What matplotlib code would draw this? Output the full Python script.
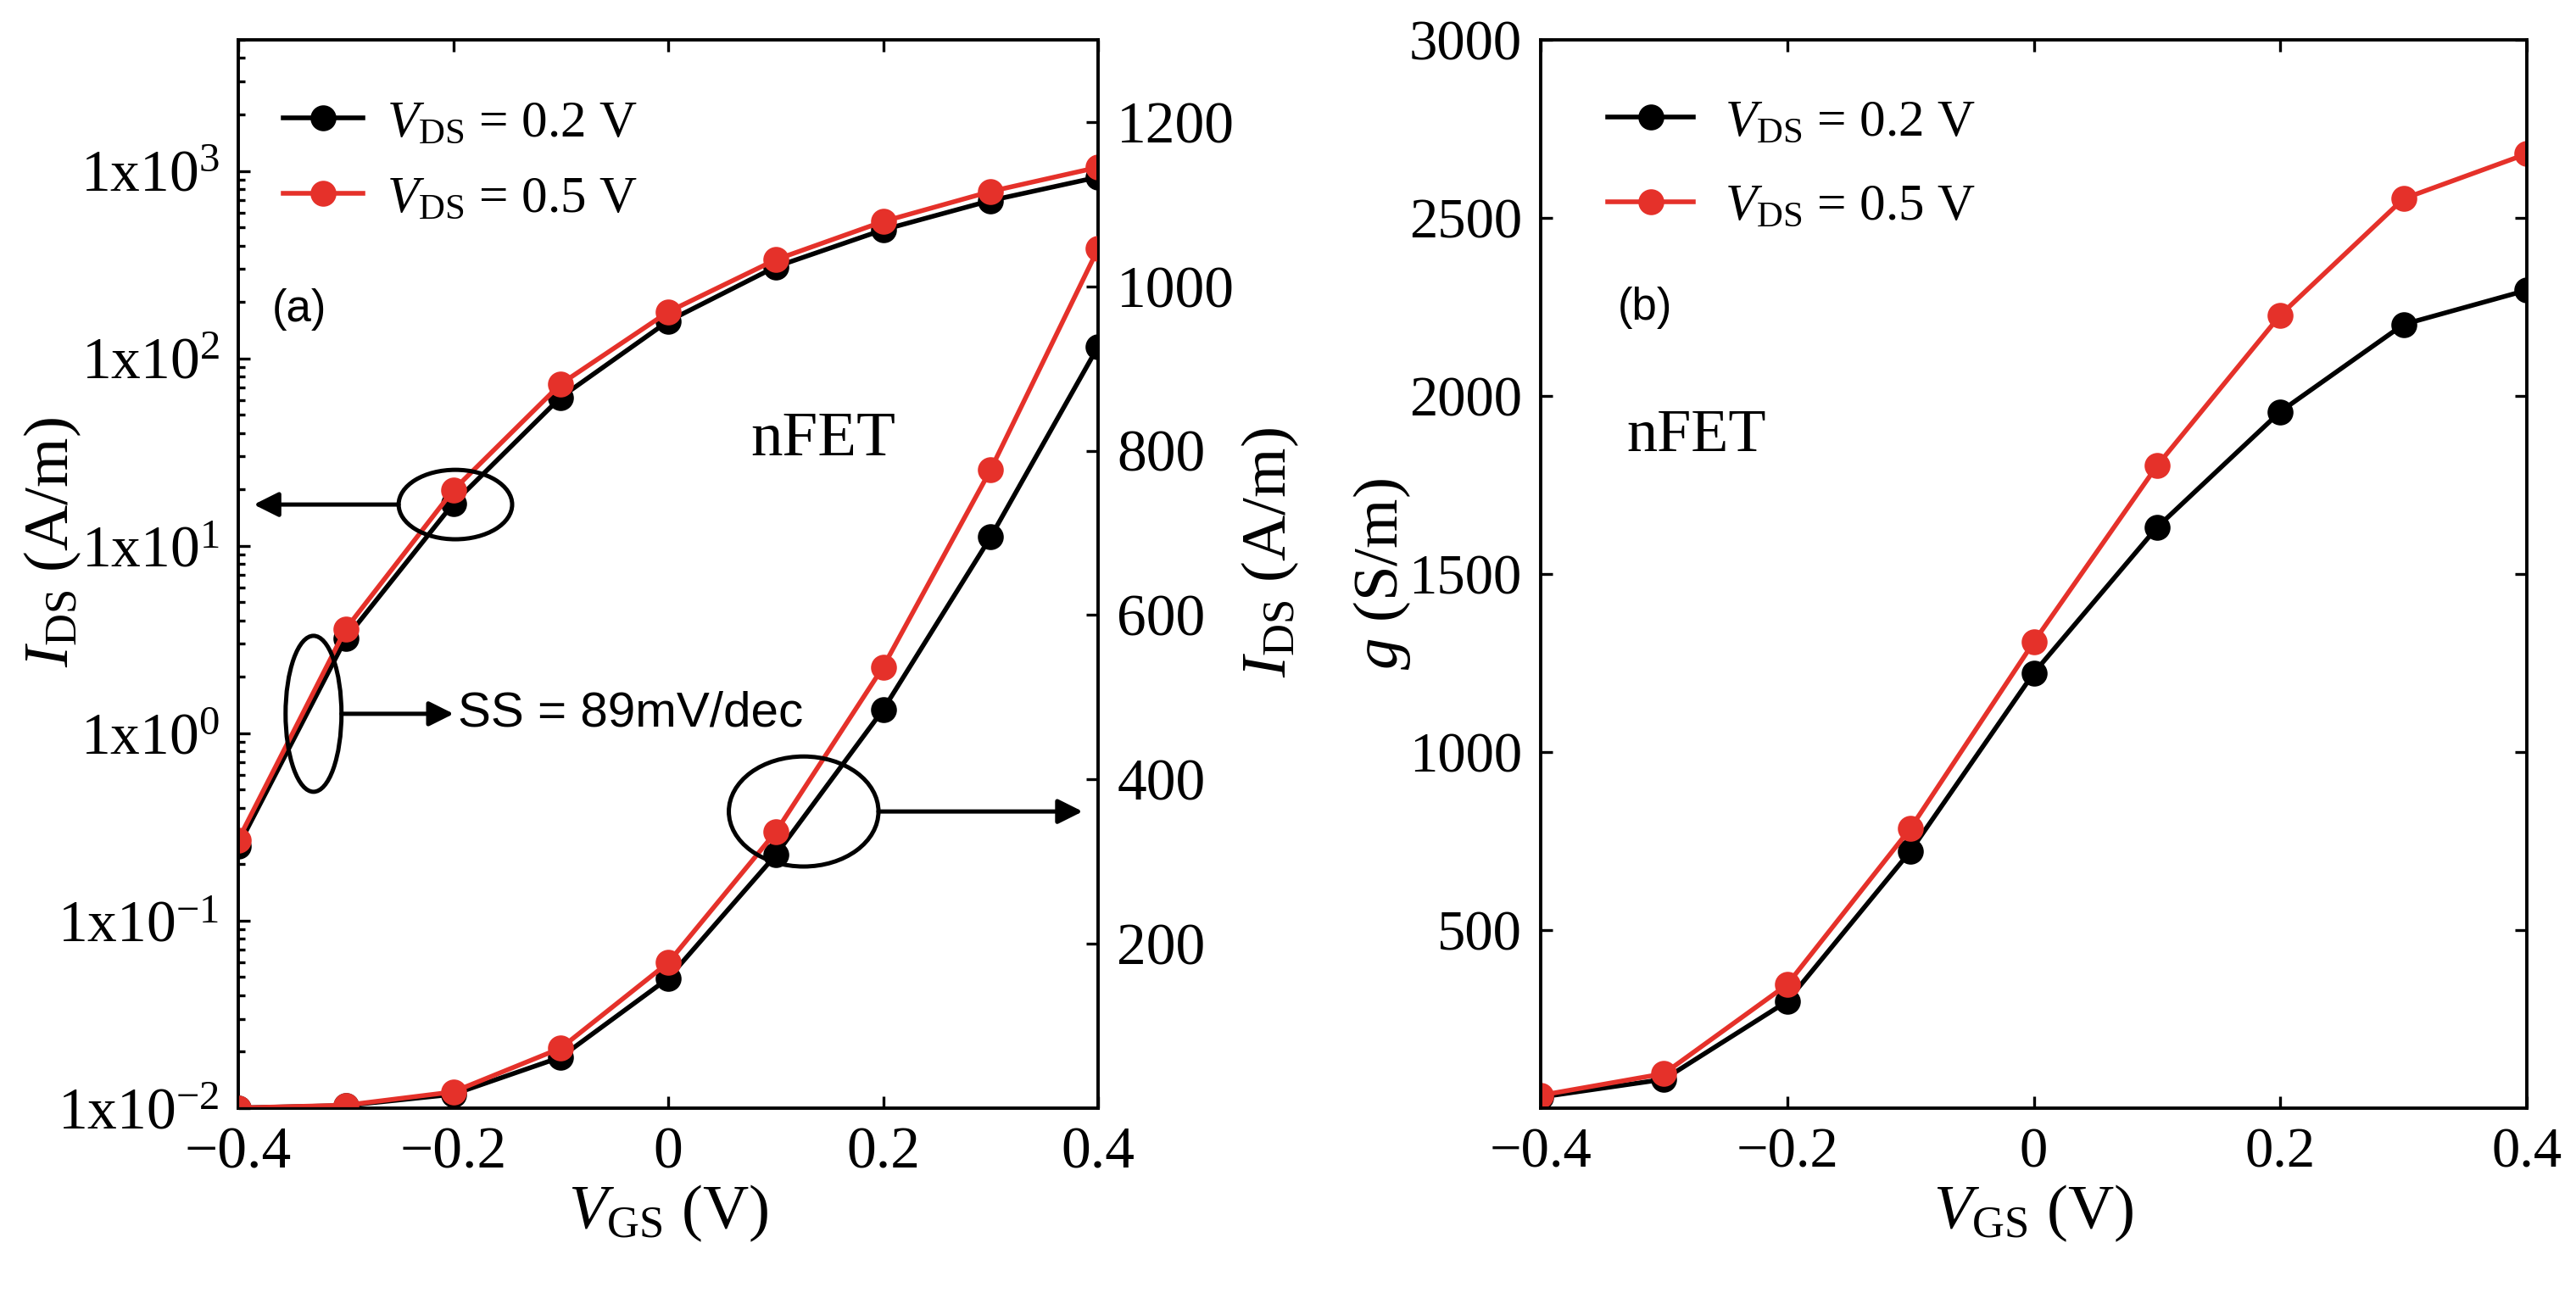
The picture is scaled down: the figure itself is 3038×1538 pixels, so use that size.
import numpy as np
import matplotlib
matplotlib.use('Agg')
import matplotlib.pyplot as plt
from matplotlib.patches import Ellipse
from matplotlib.ticker import FixedLocator, FuncFormatter, LogLocator, NullFormatter

plt.rcParams['font.family'] = ['Liberation Serif', 'DejaVu Serif']
plt.rcParams['mathtext.fontset'] = 'custom'
plt.rcParams['mathtext.rm'] = 'Liberation Serif'
plt.rcParams['mathtext.it'] = 'Liberation Serif:italic'
plt.rcParams['mathtext.bf'] = 'Liberation Serif:bold'
plt.rcParams['axes.unicode_minus'] = True

# data
vgs = [-0.4, -0.3, -0.2, -0.1, 0.0, 0.1, 0.2, 0.3, 0.4]
ids_02 = [0.25, 3.2, 16.8, 62, 158, 308, 485, 695, 927]     # A/m, VDS = 0.2 V
ids_05 = [0.27, 3.6, 19.8, 73, 177, 336, 537, 777, 1046]    # A/m, VDS = 0.5 V
g_02 = [31, 81, 300, 722, 1222, 1631, 1956, 2201, 2297]     # S/m, VDS = 0.2 V
g_05 = [36, 97, 347, 786, 1309, 1804, 2227, 2554, 2680]     # S/m, VDS = 0.5 V

labels = [r'$V_{\mathrm{DS}}$ = 0.2 V', r'$V_{\mathrm{DS}}$ = 0.5 V']
colors = ['black', '#e5312a']

xticks = [-0.4, -0.2, 0, 0.2, 0.4]
log_ticks = [1e-2, 1e-1, 1e0, 1e1, 1e2, 1e3]
lin_ticks = [200, 400, 600, 800, 1000, 1200]
g_ticks = [500, 1000, 1500, 2000, 2500, 3000]

LAB = 27
LEG = 22
LW = 2.0
MS = 10


def xfmt(v, p):
  return '0' if abs(v) < 1e-9 else ('%g' % v).replace('-', '\u2212')


def style(ax, size, right=True):
  ax.tick_params(which='both', direction='in', top=True, right=right,
                 labelsize=size, width=1.2)
  ax.tick_params(which='major', length=5, pad=8)
  ax.tick_params(which='minor', length=3)
  for s in ax.spines.values():
    s.set_linewidth(1.4)


def ellipse_at(ax, x, y, w, h):
  cx, cy = ax.transAxes.inverted().transform(ax.transData.transform((x, y)))
  ax.add_patch(Ellipse((cx, cy), w, h, transform=ax.transAxes, fill=False,
                       lw=1.8, ec='k', zorder=5))
  return cx, cy


def arrow(ax, x0, x1, y):
  ax.annotate('', xy=(x1, y), xytext=(x0, y), xycoords='axes fraction',
              arrowprops=dict(arrowstyle='-|>', lw=1.8, color='k',
                              mutation_scale=22, shrinkA=0, shrinkB=0))


fig = plt.figure(figsize=(15.19, 7.69), dpi=200)
ax1 = fig.add_axes([0.0925, 0.1502, 0.3338, 0.8192])
ax1b = ax1.twinx()
ax2 = fig.add_axes([0.5981, 0.1502, 0.3828, 0.8192])

# (a) log and linear IDS
for y, c, lab in zip([ids_02, ids_05], colors, labels):
  ax1.semilogy(vgs, y, '-o', color=c, lw=LW, ms=MS, label=lab)
  ax1b.plot(vgs, y, '-o', color=c, lw=LW, ms=MS)

ax1.set_xlim(-0.4, 0.4)
ax1.set_ylim(1e-2, 5e3)
ax1.set_xticks(xticks)
ax1.xaxis.set_major_formatter(FuncFormatter(xfmt))
ax1.yaxis.set_major_locator(FixedLocator(log_ticks))
ax1.yaxis.set_minor_locator(LogLocator(base=10, subs=np.arange(2, 10)))
ax1.yaxis.set_minor_formatter(NullFormatter())
ax1.yaxis.set_major_formatter(FuncFormatter(
    lambda v, p: r'$\mathrm{1x10}^{%d}$' % round(np.log10(v))))
style(ax1, 25, right=False)

ax1b.set_ylim(0, 1300)
ax1b.set_yticks(lin_ticks)
ax1b.tick_params(direction='in', labelsize=25, width=1.2, length=5, pad=8)

ax1.set_xlabel(r'$V_{\mathrm{GS}}$ (V)', fontsize=LAB)
ax1.xaxis.set_label_coords(0.5, -0.07)
ax1.set_ylabel(r'$I_{\mathrm{DS}}$ (A/m)', fontsize=LAB)
ax1.yaxis.set_label_coords(-0.18, 0.53)
ax1b.set_ylabel(r'$I_{\mathrm{DS}}$ (A/m)', fontsize=LAB)
ax1b.yaxis.set_label_coords(1.165, 0.52)

ax1.legend(loc='upper left', bbox_to_anchor=(0.052, 0.944), frameon=False,
           fontsize=LEG, handlelength=1.55, handletextpad=0.45,
           labelspacing=0.55, borderpad=0, borderaxespad=0)

ax1.text(0.071, 0.748, '(a)', transform=ax1.transAxes, fontsize=19,
         family='Liberation Sans', ha='center', va='center')
ax1.text(0.68, 0.625, 'nFET', transform=ax1.transAxes, fontsize=27,
         ha='center', va='center')

# annotations
w, h = 0.132, 0.065
cx, cy = ellipse_at(ax1, -0.198, 16.6, w, h)
arrow(ax1, cx - w / 2, 0.018, cy)

w, h = 0.065, 0.146
cx, cy = ellipse_at(ax1, -0.33, 1.27, w, h)
arrow(ax1, cx + w / 2, 0.2505, cy)
ax1.text(0.255, cy, 'SS = 89mV/dec', transform=ax1.transAxes, fontsize=21,
         family='Liberation Sans', ha='left', va='center')

w, h = 0.174, 0.103
cx, cy = ellipse_at(ax1b, 0.126, 361, w, h)
arrow(ax1b, cx + w / 2, 0.982, cy)

# (b) conductance
for y, c, lab in zip([g_02, g_05], colors, labels):
  ax2.plot(vgs, y, '-o', color=c, lw=LW, ms=MS, label=lab)

ax2.set_xlim(-0.4, 0.4)
ax2.set_ylim(0, 3000)
ax2.set_xticks(xticks)
ax2.xaxis.set_major_formatter(FuncFormatter(xfmt))
ax2.set_yticks(g_ticks)
style(ax2, 24)

ax2.set_xlabel(r'$V_{\mathrm{GS}}$ (V)', fontsize=LAB)
ax2.xaxis.set_label_coords(0.5, -0.07)
ax2.set_ylabel(r'$g$ (S/m)', fontsize=LAB)
ax2.yaxis.set_label_coords(-0.13, 0.5)

ax2.legend(loc='upper left', bbox_to_anchor=(0.068, 0.945), frameon=False,
           fontsize=LEG, handlelength=1.65, handletextpad=0.6,
           labelspacing=0.72, borderpad=0, borderaxespad=0)

ax2.text(0.106, 0.749, '(b)', transform=ax2.transAxes, fontsize=19,
         family='Liberation Sans', ha='center', va='center')
ax2.text(0.158, 0.629, 'nFET', transform=ax2.transAxes, fontsize=26,
         ha='center', va='center')

fig.savefig('out.png', dpi=200)
